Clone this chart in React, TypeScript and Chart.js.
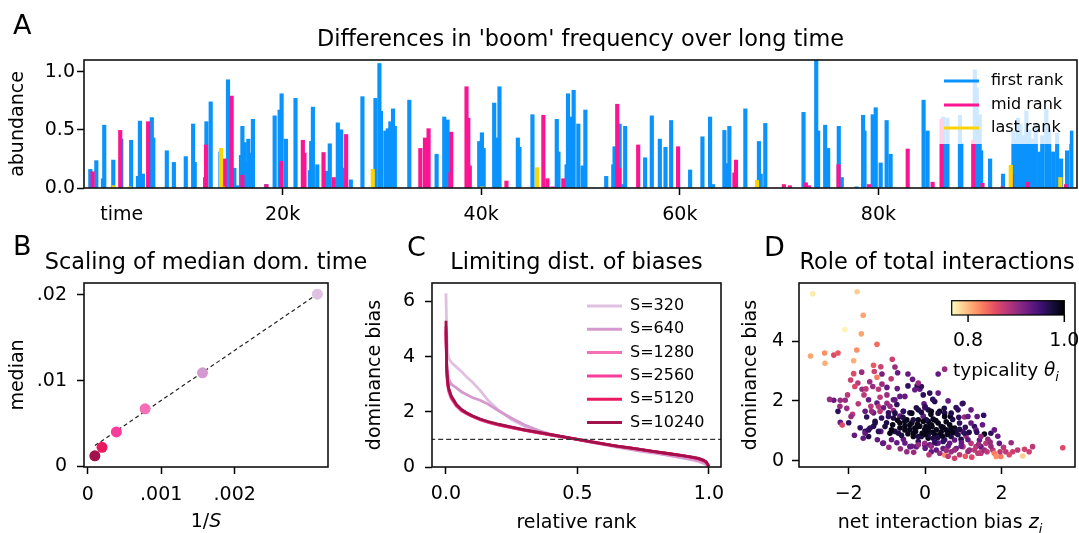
import React, { useEffect, useRef } from 'react';
import { Chart, registerables } from 'chart.js';
Chart.register(...registerables);

const FF = "'DejaVu Sans', 'Liberation Sans', sans-serif";

// ---------------- Panel A data ----------------
const titleA = "Differences in 'boom' frequency over long time";
const timeTicksA = [3800, 20000, 40000, 60000, 80000];
const timeTickLabelsA = ['time', '20k', '40k', '60k', '80k'];
const abundanceTicksA = [0, 0.5, 1.0];
const abundanceTickLabelsA = ['0.0', '0.5', '1.0'];
const seriesNamesA = ['first rank', 'mid rank', 'last rank'];

const firstRank: [number, number][] = [
  [635, 0.16], [1240, 0.235], [1910, 0.08], [2040, 0.54], [2950, 0.24], [3750, 0.42], [4750, 0.41], [5430, 0.1],
  [5630, 0.575], [5930, 0.12], [6830, 0.605], [6980, 0.43], [8340, 0.32], [9050, 0.22], [10250, 0.27], [10990, 0.55],
  [11150, 0.22], [12330, 0.57], [12760, 0.74], [13740, 0.31], [14500, 0.93], [15140, 0.17], [15450, 0.02], [15810, 0.28],
  [15950, 0.53], [16180, 0.39], [16320, 0.22], [16550, 0.42], [16820, 0.3], [17010, 0.59], [18360, 0.03], [19200, 0.62],
  [19700, 0.67], [19900, 0.81], [20330, 0.42], [21300, 0.77], [22740, 0.15], [22880, 0.4], [23050, 0.695], [23490, 0.2],
  [24390, 0.145], [24750, 0.38], [25560, 0.56], [25900, 0.5], [26050, 0.17], [26870, 0.07], [28040, 0.785], [29350, 0.77],
  [29750, 1.07], [29900, 0.66], [30350, 0.49], [30590, 0.51], [30850, 0.57], [31120, 0.68], [31300, 0.53], [32760, 0.755],
  [35510, 0.29], [36280, 0.61], [36610, 0.585], [39800, 0.4], [40070, 0.475], [40250, 0.34], [41310, 0.73], [41560, 0.43],
  [41840, 0.87], [43690, 0.43], [43850, 0.35], [45160, 0.63], [47610, 0.59], [47780, 0.31], [48600, 0.2], [48740, 0.81],
  [49080, 0.61], [49310, 0.84], [49780, 0.55], [50220, 0.19], [50490, 0.67], [52590, 0.1], [53300, 0.2], [53430, 0.355],
  [53940, 0.55], [54300, 0.03], [54500, 0.53], [56510, 0.26], [57180, 0.62], [57990, 0.42], [58560, 0.35], [59130, 0.58],
  [61040, 0.155], [62280, 0.44], [63050, 0.61], [63350, 0.03], [64490, 0.495], [64650, 0.21], [64990, 0.53], [66600, 0.68],
  [67970, 0.4], [68150, 0.12], [68610, 0.555], [72460, 0.65], [73740, 1.12], [73930, 0.49], [74640, 0.54], [74940, 0.34],
  [76010, 0.53], [76310, 0.09], [77800, 0.01], [78460, 0.625], [78600, 0.49], [79430, 0.63], [79730, 0.69], [80230, 0.215],
  [80830, 0.58], [81230, 0.29], [84550, 0.755], [84950, 0.49], [86530, 0.61], [86700, 0.38], [86950, 0.6], [88210, 0.625],
  [88350, 0.39], [89710, 1.015], [89900, 0.86], [90200, 0.63], [90350, 0.32], [91250, 0.25], [92550, 0.12], [93600, 0.49],
  [93800, 0.42], [94050, 0.6], [94300, 0.55], [94600, 0.45], [94900, 0.66], [95200, 0.5], [95500, 0.42], [95850, 0.55],
  [96200, 0.31], [96500, 0.45], [96910, 0.675], [97200, 0.5], [97600, 0.31], [98000, 0.47], [98400, 0.25], [99000, 0.32],
  [99430, 0.49],
];
const midRank: [number, number][] = [
  [870, 0.14], [3650, 0.495], [6460, 0.57], [12200, 0.09], [12290, 0.37], [14170, 0.25], [14870, 0.79], [15950, 0.11],
  [18360, 0.03], [19860, 0.23], [22040, 0.41], [22200, 0.3], [24120, 0.305], [25160, 0.09], [26400, 0.46], [33870, 0.34],
  [34340, 0.43], [34700, 0.51], [36900, 0.13], [36980, 0.48], [38520, 0.87], [38700, 0.6], [38850, 0.19], [42540, 0.06],
  [46260, 0.625], [46670, 0.08], [47200, 0.01], [48270, 0.08], [53700, 0.72], [53900, 0.17], [55810, 0.37], [59830, 0.355],
  [65500, 0.13], [65660, 0.24], [70480, 0.03], [71080, 0.02], [72690, 0.045], [73000, 0.02], [75980, 0.2], [79050, 0.03],
  [82950, 0.335], [85460, 0.05], [86360, 0.59], [89550, 0.41], [90480, 0.04], [92500, 0.01], [93450, 0.11], [95050, 0.05],
  [98900, 0.03],
];
const lastRank: [number, number][] = [
  [3000, 0.02], [4600, 0.01], [13800, 0.34], [14000, 0.01], [29080, 0.16], [40100, 0.01], [45630, 0.175], [67770, 0.065],
  [93330, 0.195], [98320, 0.09],
];

// ---------------- Panel B data ----------------
const titleB = 'Scaling of median dom. time';
const systemSizes = [320, 640, 1280, 2560, 5120, 10240];
const medianDomTime = [0.0201, 0.0109, 0.0067, 0.004, 0.0022, 0.0012];
const fitInvS = [0.0000977, 0.003125];
const fitMedian = [0.0024, 0.0201];
const invSTicks = [0, 0.001, 0.002];
const invSTickLabels = ['0', '.001', '.002'];
const medianTicks = [0, 0.01, 0.02];
const medianTickLabels = ['0', '.01', '.02'];

// ---------------- Panel C data ----------------
const titleC = 'Limiting dist. of biases';
const relRank = [0, 0.003, 0.006, 0.01, 0.02, 0.04, 0.06, 0.08, 0.1, 0.13, 0.16, 0.2, 0.25, 0.3, 0.35, 0.4, 0.45, 0.5,
  0.55, 0.6, 0.65, 0.7, 0.75, 0.8, 0.85, 0.9, 0.93, 0.96, 0.98, 0.99, 1.0];
const bias320 = [6.3, 4.9, 4.2, 3.95, 3.8, 3.62, 3.45, 3.25, 3.08, 2.78, 2.42, 2.06, 1.72, 1.47, 1.28, 1.15, 1.07, 0.99,
  0.9, 0.81, 0.72, 0.64, 0.56, 0.49, 0.41, 0.32, 0.27, 0.2, 0.13, 0.08, 0.02];
const bias640 = [4.7, 3.8, 3.4, 3.2, 3.0, 2.87, 2.72, 2.62, 2.52, 2.42, 2.28, 2.04, 1.77, 1.52, 1.33, 1.18, 1.08, 1.0,
  0.9, 0.82, 0.73, 0.65, 0.57, 0.5, 0.42, 0.34, 0.29, 0.22, 0.15, 0.1, 0.03];
const bias1280 = [5.0, 3.4, 3.0, 2.75, 2.48, 2.2, 2.03, 1.92, 1.83, 1.71, 1.62, 1.52, 1.42, 1.33, 1.24, 1.16, 1.08, 1.0,
  0.91, 0.83, 0.75, 0.68, 0.61, 0.54, 0.47, 0.4, 0.35, 0.28, 0.21, 0.15, 0.02];
const bias2560 = [4.9, 3.5, 3.05, 2.8, 2.52, 2.23, 2.05, 1.94, 1.84, 1.72, 1.63, 1.53, 1.43, 1.33, 1.25, 1.16, 1.08, 1.0,
  0.91, 0.83, 0.76, 0.69, 0.62, 0.55, 0.48, 0.41, 0.36, 0.3, 0.23, 0.17, 0.02];
const bias5120 = [5.1, 3.55, 3.1, 2.84, 2.55, 2.25, 2.07, 1.95, 1.85, 1.73, 1.64, 1.54, 1.44, 1.34, 1.25, 1.17, 1.08, 1.0,
  0.92, 0.84, 0.76, 0.69, 0.62, 0.55, 0.48, 0.41, 0.37, 0.31, 0.24, 0.18, 0.02];
const bias10240 = [5.3, 3.6, 3.15, 2.88, 2.58, 2.27, 2.08, 1.96, 1.86, 1.74, 1.65, 1.55, 1.45, 1.35, 1.26, 1.17, 1.09, 1.0,
  0.92, 0.84, 0.76, 0.69, 0.62, 0.55, 0.48, 0.41, 0.37, 0.31, 0.24, 0.18, 0.02];
const biasSeriesC = [bias320, bias640, bias1280, bias2560, bias5120, bias10240];
const seriesLabelsC = ['S=320', 'S=640', 'S=1280', 'S=2560', 'S=5120', 'S=10240'];
const refLevelX = [-0.06, 1.06];
const refLevelY = [1, 1];
const rankTicks = [0, 0.5, 1];
const rankTickLabels = ['0.0', '0.5', '1.0'];
const biasTicksC = [0, 2, 4, 6];
const biasTickLabelsC = ['0', '2', '4', '6'];

// ---------------- Panel D data ----------------
const titleD = 'Role of total interactions';
// [net interaction bias z_i, dominance bias, typicality theta_i]
const interactionPoints: [number, number, number][] = [
  [-2.94, 5.58, 0.775], [-1.78, 5.65, 0.79], [-1.62, 4.86, 0.81], [-2.1, 4.38, 0.77], [-1.67, 4.24, 0.81],
  [-1.26, 3.89, 0.84], [-3.0, 3.5, 0.81], [-2.63, 3.6, 0.82], [-2.62, 3.26, 0.805], [-2.39, 3.53, 0.86],
  [-2.28, 3.6, 0.85], [-1.79, 3.7, 0.82], [-1.87, 3.34, 0.805], [-0.86, 3.39, 0.87], [-1.35, 3.19, 0.85],
  [-1.16, 3.14, 0.87], [-0.79, 3.13, 0.9], [-1.87, 2.91, 0.86], [-1.66, 2.96, 0.9], [-1.33, 2.98, 0.87],
  [-1.13, 2.9, 0.92], [-0.72, 2.94, 0.93], [-1.26, 2.79, 0.83], [-0.89, 2.74, 0.88], [-1.76, 2.6, 0.88],
  [-1.45, 2.64, 0.9], [-1.84, 2.48, 0.86], [-1.13, 2.56, 0.9], [-0.33, 2.72, 0.93], [-1.37, 2.48, 0.9],
  [-1.22, 2.39, 0.88], [-1.65, 2.39, 0.9], [-1.0, 2.45, 0.93], [-0.73, 2.41, 0.93], [-0.45, 2.5, 0.96],
  [-0.21, 2.5, 0.96], [-0.14, 2.39, 0.93], [-2.39, 2.02, 0.93], [-2.22, 2.02, 0.9], [-2.03, 2.2, 0.88],
  [-2.09, 2.02, 0.9], [-2.23, 1.82, 0.9], [-2.28, 1.65, 0.96], [-1.9, 1.55, 0.88], [-1.94, 1.48, 0.9],
  [-2.22, 1.28, 0.93], [-2.17, 1.19, 0.86], [-2.0, 1.27, 0.96], [-1.6, 2.2, 0.88], [-1.48, 2.04, 0.93],
  [-1.18, 2.12, 0.88], [-1.0, 2.2, 0.9], [-0.83, 2.04, 0.93], [-0.66, 2.15, 0.93], [-1.42, 1.82, 0.88],
  [-1.26, 1.93, 0.93], [-1.09, 1.77, 0.93], [-0.92, 1.82, 0.9], [-0.74, 1.88, 0.96], [-1.57, 1.65, 0.93],
  [-1.35, 1.6, 0.93], [-1.18, 1.65, 0.88], [-0.96, 1.6, 0.96], [-0.83, 1.68, 0.9], [-0.57, 1.65, 0.93],
  [-0.4, 1.6, 0.97], [-0.23, 1.77, 0.97], [-0.01, 1.77, 0.93], [-1.53, 1.46, 0.96], [-1.31, 1.32, 0.97],
  [-1.14, 1.43, 0.96], [-1.01, 1.27, 0.97], [-0.83, 1.43, 0.97], [-0.66, 1.49, 0.93], [-0.48, 1.37, 0.99],
  [-0.35, 1.27, 0.99], [-0.18, 1.37, 0.99], [-0.05, 1.49, 0.93], [0.08, 1.32, 0.99], [-1.57, 0.98, 0.96],
  [-1.48, 0.81, 0.97], [-1.35, 1.15, 0.97], [-1.16, 0.98, 0.93], [-0.92, 0.92, 0.99], [-0.79, 0.98, 0.97],
  [-0.66, 1.09, 0.99], [-0.53, 1.15, 0.99], [-0.4, 1.04, 0.99], [-0.27, 1.09, 0.99], [-0.14, 1.15, 0.99],
  [-0.01, 1.04, 0.99], [0.12, 1.15, 0.99], [-1.11, 0.58, 0.93], [-0.74, 0.6, 0.93], [-0.57, 0.72, 0.93],
  [-0.48, 0.3, 0.9], [-0.4, 0.47, 0.93], [-0.31, 0.81, 0.99], [-0.18, 0.64, 0.96], [-0.1, 0.81, 0.97],
  [-0.01, 0.53, 0.93], [0.08, 0.75, 0.99], [-0.23, 0.47, 0.93],
  [0.34, 2.9, 0.93], [0.51, 3.06, 0.9], [0.12, 2.26, 0.96], [-0.03, 1.9, 0.93], [0.25, 1.98, 0.97],
  [0.08, 1.7, 0.97], [0.38, 1.65, 0.99], [0.51, 1.59, 0.97], [0.81, 1.78, 0.96], [0.97, 1.9, 0.93],
  [0.66, 1.48, 0.99], [1.03, 1.46, 0.9], [1.12, 1.48, 0.93], [1.36, 1.48, 0.93], [1.53, 1.52, 0.96],
  [1.29, 1.14, 0.96], [0.21, 1.39, 0.99], [0.03, 1.37, 0.97], [0.02, 1.14, 0.99], [0.18, 1.14, 0.99],
  [0.34, 1.26, 0.99], [0.47, 1.12, 0.99], [0.64, 1.2, 0.99], [0.77, 1.09, 0.99], [0.9, 1.26, 0.96],
  [0.99, 0.97, 0.93], [0.81, 0.92, 0.97], [0.08, 0.86, 0.97], [0.25, 0.86, 0.99], [0.42, 0.97, 0.99],
  [0.6, 0.97, 0.99], [1.55, 0.89, 0.99], [1.72, 0.92, 0.96], [1.81, 1.03, 0.93], [1.42, 0.69, 0.93],
  [1.64, 0.72, 0.9], [1.94, 0.58, 0.93], [-0.01, 0.58, 0.9], [0.12, 0.53, 0.93], [0.29, 0.58, 0.93],
  [0.47, 0.64, 0.96], [0.64, 0.58, 0.93], [0.77, 0.69, 0.93], [0.94, 0.72, 0.97], [1.07, 0.83, 0.9],
  [1.2, 0.58, 0.88], [1.33, 0.47, 0.88], [1.46, 0.3, 0.85], [1.38, 0.25, 0.88], [1.16, 0.36, 0.9],
  [0.99, 0.47, 0.88], [0.81, 0.41, 0.93], [0.68, 0.3, 0.9], [0.77, 0.08, 0.87], [0.51, 0.19, 0.82],
  [0.47, 0.41, 0.93], [0.29, 0.36, 0.93], [0.16, 0.3, 0.93], [1.77, 0.36, 0.88], [1.81, 0.25, 0.83],
  [1.86, 0.14, 0.82], [1.98, 0.14, 0.83], [1.96, 0.3, 0.88], [2.11, 0.3, 0.88], [2.29, 0.3, 0.87],
  [2.42, 0.36, 0.88], [2.55, 0.16, 0.79], [2.72, 0.3, 0.87], [2.81, 0.47, 0.88], [3.6, 0.43, 0.86],
  [1.46, 0.47, 0.93], [1.59, 0.58, 0.88],
  [-0.66, 1.26, 0.99], [-0.53, 1.31, 0.99], [-0.4, 1.2, 0.99], [-0.31, 1.37, 0.97], [-0.18, 1.14, 0.99],
  [-0.05, 1.31, 0.99], [0.08, 1.03, 0.99], [0.16, 1.2, 0.99], [0.29, 1.03, 0.99], [0.42, 1.14, 0.99],
  [0.55, 1.03, 0.99], [0.68, 1.09, 0.99], [0.77, 0.98, 0.97], [-0.31, 0.92, 0.99], [-0.18, 0.81, 0.97],
  [0.0, 0.87, 0.99], [0.21, 0.75, 0.97], [0.38, 0.87, 0.99], [0.51, 0.7, 0.96], [0.68, 0.81, 0.97],
  [0.86, 0.87, 0.97], [1.03, 0.92, 0.96], [-0.53, 1.03, 0.99], [-0.7, 0.92, 0.97], [-0.88, 1.03, 0.99],
  [-1.05, 1.14, 0.97], [-1.22, 0.98, 0.96], [-1.31, 1.26, 0.97], [-1.44, 1.09, 0.96], [-1.57, 0.92, 0.93],
  [-0.96, 1.48, 0.96], [-0.79, 1.59, 0.97], [-0.57, 1.65, 0.96], [-0.35, 1.59, 0.99], [-0.18, 1.7, 0.97],
  [0.0, 1.81, 0.96], [0.16, 1.65, 0.99], [0.34, 1.59, 0.97], [0.51, 1.48, 0.99], [0.68, 1.59, 0.97],
  [0.86, 1.7, 0.96], [0.99, 1.92, 0.96], [1.2, 1.26, 0.93], [1.33, 1.03, 0.93], [1.46, 0.81, 0.9],
  [1.12, 0.7, 0.93], [-0.53, 0.59, 0.93], [-0.35, 0.48, 0.93], [-0.18, 0.53, 0.9], [0.0, 0.42, 0.93],
  [0.16, 0.48, 0.9], [0.34, 0.59, 0.93], [0.6, 0.48, 0.93], [0.77, 0.36, 0.9], [0.94, 0.48, 0.93],
  [1.12, 0.31, 0.9], [1.29, 0.36, 0.88], [1.46, 0.25, 0.88], [1.55, 0.36, 0.9], [1.72, 0.48, 0.9],
  [-1.09, 0.59, 0.93], [-0.88, 0.7, 0.93], [-1.48, 1.03, 0.96], [-1.4, 1.65, 0.9], [-1.22, 1.81, 0.88],
  [-1.0, 1.92, 0.9], [-0.79, 2.04, 0.93], [-0.53, 2.15, 0.93], [-0.27, 2.37, 0.93], [-0.1, 2.48, 0.96],
  [-0.18, 2.6, 0.9], [0.34, 2.26, 0.93],
  [-0.85, 1.2, 0.99], [-0.62, 0.85, 0.97], [-0.45, 0.9, 0.99], [-0.25, 0.98, 0.99], [-0.08, 0.92, 0.99],
  [0.05, 0.97, 0.99], [0.2, 0.95, 0.99], [0.33, 0.78, 0.97], [0.45, 0.82, 0.99], [0.58, 0.88, 0.99],
  [0.72, 0.95, 0.99], [0.9, 1.05, 0.97], [1.05, 1.12, 0.96], [-0.72, 1.35, 0.99], [-0.58, 1.45, 0.97],
  [-0.2, 1.22, 0.99], [0.28, 1.34, 0.99], [0.55, 1.3, 0.99], [0.72, 1.38, 0.97], [0.88, 1.45, 0.96],
  [-1.7, 1.1, 0.96], [-1.85, 0.85, 0.93], [-1.62, 0.75, 0.93], [-1.25, 0.7, 0.93], [-0.95, 0.45, 0.9],
  [-0.65, 0.4, 0.9], [-0.3, 0.28, 0.9], [0.1, 0.2, 0.88], [0.38, 0.25, 0.9], [0.6, 0.15, 0.88],
  [0.9, 0.2, 0.88], [1.05, 0.15, 0.85], [1.22, 0.12, 0.86], [1.4, 0.55, 0.9], [1.62, 0.3, 0.88],
  [1.7, 0.62, 0.9], [2.05, 0.45, 0.88], [2.2, 0.2, 0.86], [2.6, 0.38, 0.87], [1.9, 0.82, 0.93],
  [2.25, 0.6, 0.9], [-2.05, 1.75, 0.9], [-1.75, 1.9, 0.88], [-1.55, 2.4, 0.88], [-1.95, 2.7, 0.87],
  [-2.5, 2.05, 0.9], [-0.45, 2.9, 0.93], [-0.05, 2.2, 0.96], [0.2, 2.05, 0.96], [0.6, 2.0, 0.93],
  [0.5, 1.75, 0.97], [0.15, 1.55, 0.99], [-0.1, 1.62, 0.97], [1.2, 1.7, 0.93], [1.35, 0.95, 0.96],
  [1.5, 1.2, 0.93], [1.15, 0.95, 0.97], [0.95, 0.6, 0.93], [0.55, 0.35, 0.9], [0.25, 0.62, 0.96],
];
const netBiasTicks = [-2, 0, 2];
const netBiasTickLabels = ['\u22122', '0', '2'];
const biasTicksD = [0, 2, 4];
const biasTickLabelsD = ['0', '2', '4'];
const typicalityRange = [0.766, 1.0];
const typicalityTicks = [0.8, 1.0];
const typicalityTickLabels = ['0.8', '1.0'];

// ---------------- styles ----------------
const BLUE = '#0a93fc';
const PINK = '#fc1593';
const GOLD = '#fdd300';
const C_COLORS = ['#dfc0e0', '#d49ad0', '#f46fb4', '#fb3c98', '#e8195e', '#a3114a'];
const MAGMA = ['#000004', '#140e36', '#3b0f70', '#641a80', '#8c2981', '#b73779', '#de4968', '#f7705c', '#fe9f6d', '#fecf92', '#fcfdbf'];
const TICK_FONT = 19;
const TITLE_FONT = 22.4;

function hexToRgb(h: string) {
  return [parseInt(h.slice(1, 3), 16), parseInt(h.slice(3, 5), 16), parseInt(h.slice(5, 7), 16)];
}
function magma(t: number) {
  const c = Math.min(1, Math.max(0, t)) * 10;
  const i = Math.min(9, Math.floor(c));
  const f = c - i;
  const a = hexToRgb(MAGMA[i]);
  const b = hexToRgb(MAGMA[i + 1]);
  const m = a.map((v, k) => Math.round(v + (b[k] - v) * f));
  return `rgb(${m[0]},${m[1]},${m[2]})`;
}
function typColor(th: number) {
  const t = (th - typicalityRange[0]) / (typicalityRange[1] - typicalityRange[0]);
  return magma(1 - t);
}

type Seg = { t: string; it?: boolean; sub?: boolean };
function drawRich(ctx: CanvasRenderingContext2D, segs: Seg[], x: number, y: number, align: 'center' | 'left', size: number) {
  ctx.save();
  ctx.fillStyle = '#000';
  ctx.textBaseline = 'alphabetic';
  ctx.textAlign = 'left';
  const fontFor = (s: Seg) => `${s.it ? 'italic ' : ''}${s.sub ? Math.round(size * 0.7) : size}px ${FF}`;
  let w = 0;
  for (const s of segs) { ctx.font = fontFor(s); w += ctx.measureText(s.t).width; }
  let cx = align === 'center' ? x - w / 2 : x;
  for (const s of segs) {
    ctx.font = fontFor(s);
    ctx.fillText(s.t, cx, y + (s.sub ? size * 0.25 : 0));
    cx += ctx.measureText(s.t).width;
  }
  ctx.restore();
}
function drawFrame(chart: any) {
  const { ctx, chartArea: a } = chart;
  ctx.save();
  ctx.strokeStyle = '#111';
  ctx.lineWidth = 1.6;
  ctx.strokeRect(a.left, a.top, a.right - a.left, a.bottom - a.top);
  ctx.restore();
}
function drawTitle(chart: any, text: string, baseline: number) {
  const { ctx, chartArea: a } = chart;
  ctx.save();
  ctx.fillStyle = '#000';
  ctx.font = `${TITLE_FONT}px ${FF}`;
  ctx.textAlign = 'center';
  ctx.textBaseline = 'alphabetic';
  ctx.fillText(text, (a.left + a.right) / 2, baseline);
  ctx.restore();
}
function drawLetter(ctx: CanvasRenderingContext2D, s: string, x: number, y: number) {
  ctx.save();
  ctx.fillStyle = '#000';
  ctx.font = `27px ${FF}`;
  ctx.textBaseline = 'alphabetic';
  ctx.textAlign = 'left';
  ctx.fillText(s, x, y);
  ctx.restore();
}

function axis(o: {
  pos: 'x' | 'y'; min: number; max: number; ticks: number[]; labels: string[]; size: number; pad: number;
  title?: string; titlePad?: number; tickColor?: any;
}) {
  return {
    type: 'linear',
    min: o.min,
    max: o.max,
    offset: false,
    afterBuildTicks: (scale: any) => { scale.ticks = o.ticks.map((v) => ({ value: v })); },
    afterFit: (scale: any) => { if (o.pos === 'x') scale.height = o.size; else scale.width = o.size; },
    ticks: {
      autoSkip: false, maxRotation: 0, minRotation: 0, padding: o.pad, color: '#000',
      font: { family: FF, size: TICK_FONT },
      callback: (v: any) => {
        const i = o.ticks.findIndex((t) => Math.abs(t - v) < 1e-12);
        return i >= 0 ? o.labels[i] : '';
      },
    },
    grid: {
      display: true, drawOnChartArea: false, drawTicks: true, tickLength: 7, tickWidth: 1.5,
      tickColor: o.tickColor || '#000', offset: false,
    },
    border: { display: false },
    title: o.title
      ? {
        display: true, text: o.title, color: '#000', font: { family: FF, size: TICK_FONT, lineHeight: 1 },
        padding: o.pos === 'y' ? { top: o.titlePad || 0, bottom: 0 } : { top: 0, bottom: o.titlePad || 0 },
      }
      : { display: false },
  };
}

function baseOptions(padRight: number, padTop: number, scales: any) {
  return {
    responsive: false,
    animation: false,
    events: [],
    layout: { padding: { left: 0, right: padRight, top: padTop, bottom: 0 } },
    plugins: { legend: { display: false }, tooltip: { enabled: false }, title: { display: false } },
    scales,
  };
}

// ---------------- chart configs ----------------
function makeA(): any {
  const mk = (pts: [number, number][]) => pts.map(([x, y]) => ({ x, y }));
  return {
    type: 'bar',
    data: {
      datasets: [
        { label: seriesNamesA[0], data: mk(firstRank), backgroundColor: BLUE, barThickness: 3.5, grouped: false, borderWidth: 0, order: 2 },
        { label: seriesNamesA[1], data: mk(midRank), backgroundColor: PINK, barThickness: 3.5, grouped: false, borderWidth: 0, order: 1 },
        { label: seriesNamesA[2], data: mk(lastRank), backgroundColor: GOLD, barThickness: 3.5, grouped: false, borderWidth: 0, order: 0 },
      ],
    },
    options: baseOptions(2, 60, {
      x: axis({
        pos: 'x', min: 0, max: 100000, ticks: timeTicksA, labels: timeTickLabelsA, size: 44, pad: 8.5,
        tickColor: (ctx: any) => (ctx.tick && ctx.tick.value === timeTicksA[0] ? 'rgba(0,0,0,0)' : '#000'),
      }),
      y: axis({ pos: 'y', min: 0, max: 1.1, ticks: abundanceTicksA, labels: abundanceTickLabelsA, size: 84, pad: 2, title: 'abundance', titlePad: 9 }),
    }),
    plugins: [{
      id: 'decorA',
      afterDraw(chart: any) {
        const ctx = chart.ctx;
        drawFrame(chart);
        drawTitle(chart, titleA, 46);
        drawLetter(ctx, 'A', 13, 34);
        ctx.save();
        ctx.fillStyle = 'rgba(255,255,255,0.8)';
        ctx.fillRect(937, 66, 133, 78);
        const cols = [BLUE, PINK, GOLD];
        const rows = [81, 105, 128];
        ctx.font = `16px ${FF}`;
        ctx.textBaseline = 'middle';
        ctx.textAlign = 'left';
        for (let i = 0; i < 3; i++) {
          ctx.strokeStyle = cols[i];
          ctx.lineWidth = 3;
          ctx.beginPath();
          ctx.moveTo(944, rows[i]);
          ctx.lineTo(979, rows[i]);
          ctx.stroke();
          ctx.fillStyle = '#000';
          ctx.fillText(seriesNamesA[i], 991, rows[i]);
        }
        ctx.restore();
      },
    }],
  };
}

function makeB(): any {
  return {
    type: 'scatter',
    data: {
      datasets: [
        {
          type: 'line', data: fitInvS.map((x, i) => ({ x, y: fitMedian[i] })), borderColor: '#222', borderWidth: 1.2,
          borderDash: [4, 3], pointRadius: 0, fill: false, order: 1,
        },
        {
          data: systemSizes.map((s, i) => ({ x: 1 / s, y: medianDomTime[i] })),
          backgroundColor: C_COLORS, pointRadius: 5.5, pointBorderWidth: 0, order: 0,
        },
      ],
    },
    options: baseOptions(52, 53, {
      x: axis({ pos: 'x', min: -0.00005, max: 0.00327, ticks: invSTicks, labels: invSTickLabels, size: 66, pad: 9.5 }),
      y: axis({ pos: 'y', min: -0.0001, max: 0.0214, ticks: medianTicks, labels: medianTickLabels, size: 84, pad: 10, title: 'median', titlePad: 8.5 }),
    }),
    plugins: [{
      id: 'decorB',
      afterDraw(chart: any) {
        drawFrame(chart);
        drawTitle(chart, titleB, 38.5);
        drawLetter(chart.ctx, 'B', 13, 25);
        drawRich(chart.ctx, [{ t: '1/' }, { t: 'S', it: true }], 206, 297, 'center', TICK_FONT);
      },
    }],
  };
}

function makeC(): any {
  const datasets: any[] = biasSeriesC.map((vals, k) => ({
    label: seriesLabelsC[k],
    data: relRank.map((x, i) => ({ x, y: vals[i] })),
    showLine: true, borderColor: C_COLORS[k], borderWidth: 2.8, pointRadius: 0, fill: false, order: 10 - k,
  }));
  datasets.push({
    data: refLevelX.map((x, i) => ({ x, y: refLevelY[i] })), showLine: true, borderColor: '#333',
    borderWidth: 1.2, borderDash: [5, 3], pointRadius: 0, fill: false, order: 0,
  });
  return {
    type: 'scatter',
    data: { datasets },
    options: baseOptions(19, 53, {
      x: axis({ pos: 'x', min: -0.053, max: 1.046, ticks: rankTicks, labels: rankTickLabels, size: 66, pad: 8.5, title: 'relative rank', titlePad: 0 }),
      y: axis({ pos: 'y', min: 0, max: 6.67, ticks: biasTicksC, labels: biasTickLabelsC, size: 70, pad: 10, title: 'dominance bias', titlePad: 4 }),
    }),
    plugins: [{
      id: 'decorC',
      afterDraw(chart: any) {
        const ctx = chart.ctx;
        drawFrame(chart);
        drawTitle(chart, titleC, 39);
        drawLetter(ctx, 'C', 45, 26);
        ctx.save();
        ctx.font = `16px ${FF}`;
        ctx.textBaseline = 'middle';
        ctx.textAlign = 'left';
        for (let i = 0; i < seriesLabelsC.length; i++) {
          const y = 76 + i * 23.3;
          ctx.strokeStyle = C_COLORS[i];
          ctx.lineWidth = 3;
          ctx.beginPath();
          ctx.moveTo(225, y);
          ctx.lineTo(260, y);
          ctx.stroke();
          ctx.fillStyle = '#000';
          ctx.fillText(seriesLabelsC[i], 268, y);
        }
        ctx.restore();
      },
    }],
  };
}

function makeD(): any {
  return {
    type: 'scatter',
    data: {
      datasets: [{
        data: interactionPoints.map(([x, y]) => ({ x, y })),
        backgroundColor: interactionPoints.map((p) => typColor(p[2])),
        pointRadius: 2.8, pointBorderWidth: 0,
      }],
    },
    options: baseOptions(2, 53, {
      x: axis({ pos: 'x', min: -3.3, max: 3.92, ticks: netBiasTicks, labels: netBiasTickLabels, size: 66, pad: 8.5 }),
      y: axis({ pos: 'y', min: -0.21, max: 5.94, ticks: biasTicksD, labels: biasTickLabelsD, size: 77, pad: 8, title: 'dominance bias', titlePad: 20 }),
    }),
    plugins: [{
      id: 'decorD',
      afterDraw(chart: any) {
        const ctx = chart.ctx;
        drawFrame(chart);
        drawTitle(chart, titleD, 39);
        drawLetter(ctx, 'D', 42, 26);
        drawRich(ctx, [{ t: 'net interaction bias ' }, { t: 'z', it: true }, { t: 'i', it: true, sub: true }], 218, 298, 'center', TICK_FONT);
        // colorbar
        const L = 229.7, R = 342.3, T = 70.7, B = 85;
        ctx.save();
        const g = ctx.createLinearGradient(L, 0, R, 0);
        for (let i = 0; i <= 20; i++) g.addColorStop(i / 20, magma(1 - i / 20));
        ctx.fillStyle = g;
        ctx.fillRect(L, T, R - L, B - T);
        ctx.strokeStyle = '#000';
        ctx.lineWidth = 1.2;
        ctx.strokeRect(L, T, R - L, B - T);
        ctx.font = `${TICK_FONT}px ${FF}`;
        ctx.textAlign = 'center';
        ctx.textBaseline = 'middle';
        ctx.fillStyle = '#000';
        ctx.lineWidth = 1.5;
        typicalityTicks.forEach((v, i) => {
          const px = L + ((v - typicalityRange[0]) / (typicalityRange[1] - typicalityRange[0])) * (R - L);
          ctx.beginPath();
          ctx.moveTo(px, B);
          ctx.lineTo(px, B + 7);
          ctx.stroke();
          ctx.fillText(typicalityTickLabels[i], px, 111);
        });
        ctx.restore();
        drawRich(ctx, [{ t: 'typicality ' }, { t: '\u03b8', it: true }, { t: 'i', it: true, sub: true }], 231, 146, 'left', 18.5);
      },
    }],
  };
}

function ChartCanvas({ x, y, w, h, make }: { x: number; y: number; w: number; h: number; make: () => any }) {
  const ref = useRef<HTMLCanvasElement | null>(null);
  useEffect(() => {
    const chart = new Chart(ref.current as HTMLCanvasElement, make());
    return () => chart.destroy();
  }, [make]);
  return (
    <canvas
      ref={ref}
      width={w}
      height={h}
      style={{ position: 'absolute', left: x, top: y, width: w, height: h }}
    />
  );
}

export default function App() {
  return (
    <div style={{ position: 'absolute', left: 0, top: 0, width: 1079, height: 533, overflow: 'hidden', background: '#fff' }}>
      <ChartCanvas x={0} y={0} w={1079} h={232} make={makeA} />
      <ChartCanvas x={0} y={230} w={380} h={303} make={makeB} />
      <ChartCanvas x={362} y={230} w={378} h={303} make={makeC} />
      <ChartCanvas x={722} y={230} w={357} h={303} make={makeD} />
    </div>
  );
}
